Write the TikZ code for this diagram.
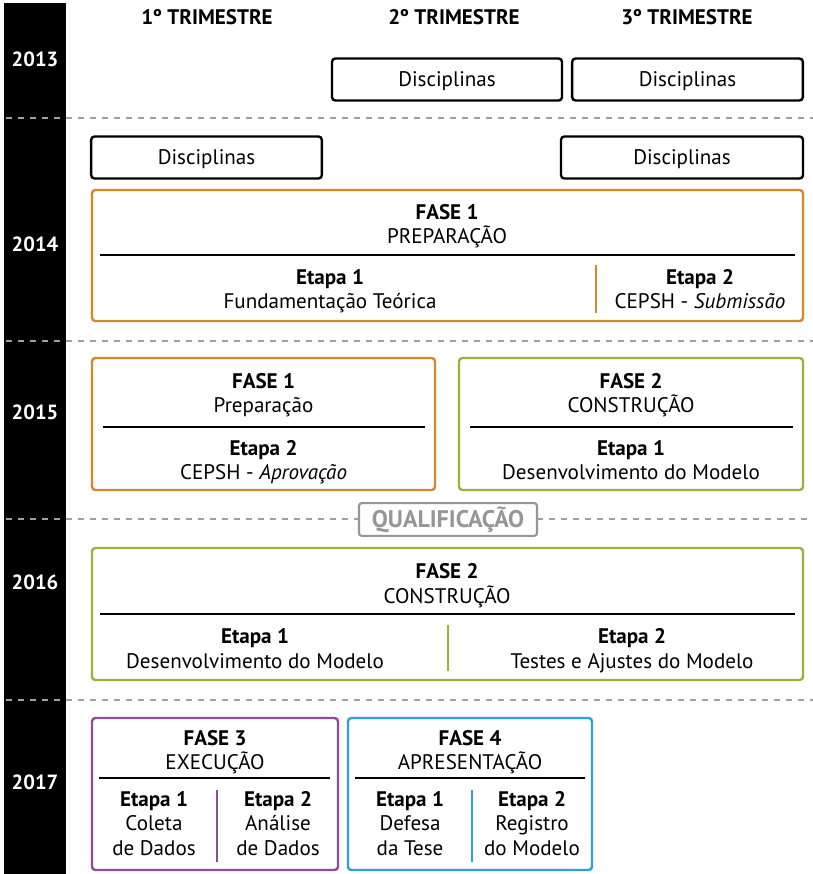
\documentclass[tikz,border=0pt]{standalone}
\usepackage{fontspec}
\setmainfont{PT Sans}
\definecolor{cOrange}{RGB}{212,136,40}
\definecolor{cGreen}{RGB}{164,172,58}
\definecolor{cPurple}{RGB}{142,78,150}
\definecolor{cBlue}{RGB}{42,163,211}
\definecolor{cGray}{RGB}{160,160,160}
\definecolor{cQual}{RGB}{150,150,150}
\tikzset{
  txt/.style={font=\fontsize{15.8}{18}\selectfont, inner sep=0pt, anchor=base},
  btxt/.style={font=\fontsize{15.8}{18}\selectfont\bfseries, inner sep=0pt, anchor=base},
  hdr/.style={font=\fontsize{15.8}{18}\selectfont\bfseries, inner sep=0pt, anchor=base},
  year/.style={font=\fontsize{15.4}{18}\selectfont\bfseries, text=white, inner sep=0pt, anchor=base},
  discbox/.style={draw=black, line width=1.8pt, rounded corners=2.5pt, minimum height=31.5pt, inner sep=0pt},
  phase/.style={line width=1.8pt, rounded corners=2.5pt},
  rule/.style={line width=1.4pt, draw=black},
  sep/.style={line width=1.5pt},
  grayline/.style={draw=cGray, line width=2pt, dash pattern=on 4.5pt off 4.5pt},
}
\begin{document}
\begin{tikzpicture}[x=0.75pt,y=-0.75pt]
\useasboundingbox (0,0) rectangle (813,874);
\fill[white] (0,0) rectangle (813,874);
% black year bar
\fill[black] (4,3) rectangle (66,874);
% dashed separators
\draw[grayline] (6,118) -- (813,118);
\draw[grayline] (6,341) -- (813,341);
\draw[grayline] (6,519) -- (359,519);
\draw[grayline] (537,519) -- (813,519);
\draw[grayline] (6,700) -- (813,700);
% headers
\node[hdr] (h1) at (207,24.5) {1º TRIMESTRE};
\node[hdr] (h2) at (454,24.5) {2º TRIMESTRE};
\node[hdr] (h3) at (687,24.5) {3º TRIMESTRE};
% years
\node[year] (y13) at (35,67) {2013};
\node[year] (y14) at (35,251) {2014};
\node[year] (y15) at (35,419) {2015};
\node[year] (y16) at (35,589) {2016};
\node[year] (y17) at (35,789) {2017};
% 2013
\node[discbox, minimum width=172.5pt] (d1) at (447,79.5) {};
\node[txt] (d1t) at (447,86.5) {Disciplinas};
\node[discbox, minimum width=173pt] (d2) at (687.5,79.5) {};
\node[txt] (d2t) at (687.5,86.5) {Disciplinas};
% 2014
\node[discbox, minimum width=173pt] (d3) at (206.5,157.5) {};
\node[txt] (d3t) at (206.5,164.5) {Disciplinas};
\node[discbox, minimum width=181.5pt] (d4) at (682,157.5) {};
\node[txt] (d4t) at (682,164.5) {Disciplinas};
\draw[phase, cOrange] (92,190) rectangle (803,321);
\node[btxt] (f1t) at (447,219.5) {FASE 1};
\node[txt] (f1s) at (447,243) {PREPARAÇÃO};
\draw[rule] (100,255) -- (795,255);
\draw[sep, cOrange] (596,265) -- (596,313);
\node[btxt] (e11) at (330,284.5) {Etapa 1};
\node[txt] (e11s) at (330,308) {Fundamentação Teórica};
\node[btxt] (e12) at (700,284.5) {Etapa 2};
\node[txt] (e12s) at (700,308) {CEPSH - \textit{Submissão}};
% 2015
\draw[phase, cOrange] (92,358) rectangle (435,490);
\node[btxt] (f1bt) at (263.5,388.5) {FASE 1};
\node[txt] (f1bs) at (263.5,412.5) {Preparação};
\draw[rule] (103,427) -- (425,427);
\node[btxt] (e2b) at (263.5,455) {Etapa 2};
\node[txt] (e2bs) at (263.5,479) {CEPSH - \textit{Aprovação}};
\draw[phase, cGreen] (459,358) rectangle (803,490);
\node[btxt] (f2t) at (631,388.5) {FASE 2};
\node[txt] (f2s) at (631,412.5) {CONSTRUÇÃO};
\draw[rule] (470,427) -- (793,427);
\node[btxt] (e21) at (631,455) {Etapa 1};
\node[txt] (e21s) at (631,479) {Desenvolvimento do Modelo};
% qualificacao
\node[draw=cQual, line width=1.6pt, rounded corners=2pt, minimum width=133.5pt, minimum height=24.5pt, inner sep=0pt] (qual) at (448,519.5) {};
\node[text=cQual, font=\fontsize{18}{20}\selectfont\bfseries, inner sep=0pt, anchor=base] (qualt) at (448,527.5) {QUALIFICAÇÃO};
% 2016
\draw[phase, cGreen] (92,548) rectangle (803,680);
\node[btxt] (f2bt) at (447,578.5) {FASE 2};
\node[txt] (f2bs) at (447,603) {CONSTRUÇÃO};
\draw[rule] (100,614) -- (795,614);
\draw[sep, cGreen] (448,625) -- (448,671);
\node[btxt] (e31) at (255,643) {Etapa 1};
\node[txt] (e31s) at (255,668) {Desenvolvimento do Modelo};
\node[btxt] (e32) at (632,643) {Etapa 2};
\node[txt] (e32s) at (632,668) {Testes e Ajustes do Modelo};
% 2017 fase 3
\draw[phase, cPurple] (92,718) rectangle (338,870);
\node[btxt] (f3t) at (215,745.5) {FASE 3};
\node[txt] (f3s) at (215,769.5) {EXECUÇÃO};
\draw[rule] (99,778) -- (330,778);
\draw[sep, cPurple] (217,790) -- (217,862);
\node[btxt] (e41) at (154,806.5) {Etapa 1};
\node[txt] (e41a) at (154,830.5) {Coleta};
\node[txt] (e41b) at (154,855.5) {de Dados};
\node[btxt] (e42) at (278,806.5) {Etapa 2};
\node[txt] (e42a) at (278,830.5) {Análise};
\node[txt] (e42b) at (278,855.5) {de Dados};
% 2017 fase 4
\draw[phase, cBlue] (348,718) rectangle (592,870);
\node[btxt] (f4t) at (470,745.5) {FASE 4};
\node[txt] (f4s) at (470,769.5) {APRESENTAÇÃO};
\draw[rule] (355,778) -- (585,778);
\draw[sep, cBlue] (472,790) -- (472,862);
\node[btxt] (e51) at (410,806.5) {Etapa 1};
\node[txt] (e51a) at (410,830.5) {Defesa};
\node[txt] (e51b) at (410,855.5) {da Tese};
\node[btxt] (e52) at (532,806.5) {Etapa 2};
\node[txt] (e52a) at (532,830.5) {Registro};
\node[txt] (e52b) at (532,855.5) {do Modelo};
\end{tikzpicture}
\end{document}
